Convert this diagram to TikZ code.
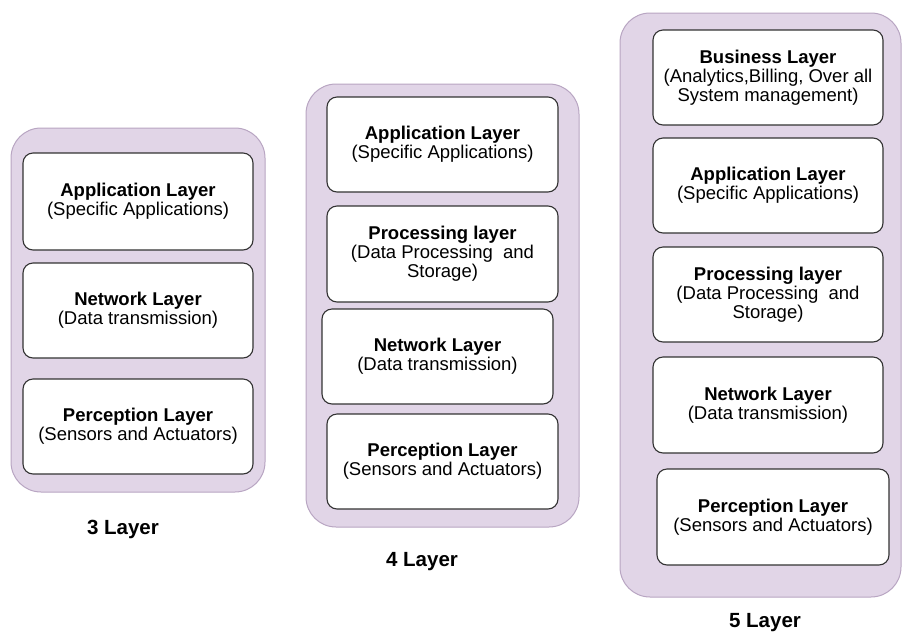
\documentclass[tikz,border=0pt]{standalone}
\usepackage{fontspec}
\setmainfont{Liberation Sans}
\definecolor{stackfill}{HTML}{E1D5E7}
\definecolor{stackline}{HTML}{B8A5C2}
\definecolor{boxline}{HTML}{333333}
\begin{document}
\begin{tikzpicture}[x=1pt,y=-1pt,
  stack/.style={draw=stackline, fill=stackfill, line width=1pt,
    rounded corners=30pt, inner sep=0pt},
  layerbox/.style={draw=boxline, fill=white, line width=1.1pt,
    rounded corners=10pt, inner sep=0pt, align=center,
    font=\fontsize{18.5}{19}\selectfont},
  caption/.style={font=\fontsize{20.5}{21}\selectfont\bfseries, inner sep=0pt}]
\useasboundingbox (0,0) rectangle (903,641);

% ---- three-layer stack ----
\node[stack, minimum width=254pt, minimum height=364pt] (s3) at (138,310) {};
\node[layerbox, minimum width=230pt, minimum height=97pt] (s3app) at (138,201.5)
  {\textbf{Application Layer}\\(Specific Applications)};
\node[layerbox, minimum width=230pt, minimum height=95pt] (s3net) at (138,310.5)
  {\textbf{Network Layer}\\(Data transmission)};
\node[layerbox, minimum width=230pt, minimum height=95pt] (s3per) at (138,426.5)
  {\textbf{Perception Layer}\\(Sensors and Actuators)};
\node[caption] (cap3) at (123,529) {3 Layer};

% ---- four-layer stack ----
\node[stack, minimum width=273pt, minimum height=443pt] (s4) at (442.5,305.5) {};
\node[layerbox, minimum width=231pt, minimum height=95pt] (s4app) at (442.5,144.5)
  {\textbf{Application Layer}\\(Specific Applications)};
\node[layerbox, minimum width=231pt, minimum height=96pt] (s4pro) at (442.5,254)
  {\textbf{Processing layer}\\(Data Processing~ and\\Storage)};
\node[layerbox, minimum width=231pt, minimum height=95pt] (s4net) at (437.5,356.5)
  {\textbf{Network Layer}\\(Data transmission)};
\node[layerbox, minimum width=231pt, minimum height=95pt] (s4per) at (442.5,461.5)
  {\textbf{Perception Layer}\\(Sensors and Actuators)};
\node[caption] (cap4) at (422,562) {4 Layer};

% ---- five-layer stack ----
\node[stack, minimum width=281pt, minimum height=584pt] (s5) at (760.5,305) {};
\node[layerbox, minimum width=230pt, minimum height=95pt] (s5bus) at (768,77.5)
  {\textbf{Business Layer}\\(Analytics,Billing, Over all\\System management)};
\node[layerbox, minimum width=230pt, minimum height=95pt] (s5app) at (768,185.5)
  {\textbf{Application Layer}\\(Specific Applications)};
\node[layerbox, minimum width=230pt, minimum height=95pt] (s5pro) at (768,294.5)
  {\textbf{Processing layer}\\(Data Processing~ and\\Storage)};
\node[layerbox, minimum width=230pt, minimum height=96pt] (s5net) at (768,405)
  {\textbf{Network Layer}\\(Data transmission)};
\node[layerbox, minimum width=232pt, minimum height=96pt] (s5per) at (773,517)
  {\textbf{Perception Layer}\\(Sensors and Actuators)};
\node[caption] (cap5) at (765,623) {5 Layer};
\end{tikzpicture}
\end{document}
